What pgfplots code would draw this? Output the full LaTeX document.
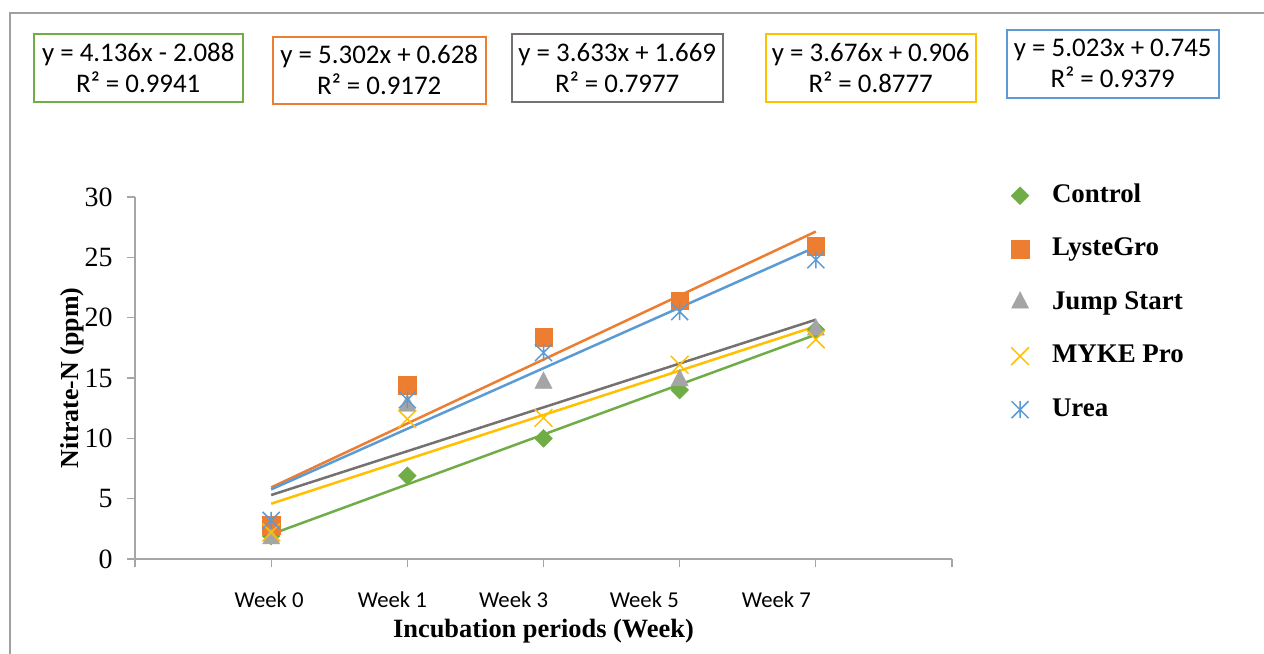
\documentclass[border=0pt]{standalone}
\usepackage{fontspec}
\setmainfont{Liberation Serif}
\newfontfamily\calibri{Carlito}
\usepackage{pgfplots}
\pgfplotsset{compat=1.18}
\definecolor{cGreen}{HTML}{70AD47}
\definecolor{cOrange}{HTML}{ED7D31}
\definecolor{cGray}{HTML}{A5A5A5}
\definecolor{cGrayLine}{HTML}{767171}
\definecolor{cYellow}{HTML}{FFC000}
\definecolor{cBlue}{HTML}{5B9BD5}
\definecolor{axisgray}{HTML}{A6A6A6}
\definecolor{framegray}{HTML}{A0A0A0}
\pgfdeclareplotmark{xstar}{%
  \pgfpathmoveto{\pgfqpoint{0pt}{\pgfplotmarksize}}%
  \pgfpathlineto{\pgfqpoint{0pt}{-\pgfplotmarksize}}%
  \pgfpathmoveto{\pgfqpoint{-\pgfplotmarksize}{-\pgfplotmarksize}}%
  \pgfpathlineto{\pgfqpoint{\pgfplotmarksize}{\pgfplotmarksize}}%
  \pgfpathmoveto{\pgfqpoint{-\pgfplotmarksize}{\pgfplotmarksize}}%
  \pgfpathlineto{\pgfqpoint{\pgfplotmarksize}{-\pgfplotmarksize}}%
  \pgfusepathqstroke}
\begin{document}
\begin{tikzpicture}
\path[use as bounding box, fill=white] (0,0) rectangle (1264bp,-654bp);
\draw[framegray, line width=1.2bp] (10bp,-654bp) -- (10bp,-13bp) -- (1264bp,-13bp);
\tikzset{eqbox/.style={draw, line width=1.5bp, align=center, font=\calibri\fontsize{27}{31}\selectfont, inner sep=0pt, anchor=north west}}
\node[eqbox, draw=cGreen, minimum width=209bp, minimum height=68bp] at (33bp,-33bp) {y = 4.136x - 2.088\\R² = 0.9941};
\node[eqbox, draw=cOrange, minimum width=213bp, minimum height=67bp] at (272bp,-36bp) {y = 5.302x + 0.628\\R² = 0.9172};
\node[eqbox, draw=cGrayLine, minimum width=211bp, minimum height=68bp] at (511bp,-33bp) {y = 3.633x + 1.669\\R² = 0.7977};
\node[eqbox, draw=cYellow, minimum width=210bp, minimum height=68bp] at (765bp,-33bp) {y = 3.676x + 0.906\\R² = 0.8777};
\node[eqbox, draw=cBlue, minimum width=212bp, minimum height=68bp] at (1006bp,-29bp) {y = 5.023x + 0.745\\R² = 0.9379};
\begin{axis}[
  at={(135bp,-559bp)}, anchor=south west,
  scale only axis, width=817bp, height=362bp,
  xmin=0, xmax=6, ymin=0, ymax=30,
  axis x line*=bottom, axis y line*=left,
  axis line style={axisgray, line width=1.2bp, -},
  xtick={0,1,2,3,4,5,6}, xticklabels={,,,,,,},
  ytick={0,5,10,15,20,25,30},
  tick style={axisgray, line width=1.2bp},
  tick align=outside, major tick length=8bp,
  /pgf/number format/assume math mode=true,
  yticklabel style={font=\fontsize{28}{28}\selectfont, xshift=-11bp},
  extra x ticks={0.985,1.89,2.78,3.74,4.71},
  extra x tick labels={Week 0,Week 1,Week 3,Week 5,Week 7},
  extra x tick style={major tick length=0pt, tick label style={font=\calibri\fontsize{22.8}{22.8}\selectfont, anchor=center, yshift=-41bp}},
  ylabel={Nitrate-N (ppm)},
  ylabel style={font=\bfseries\fontsize{26}{26}\selectfont, at={(axis description cs:-0.077,0.5)}, anchor=center},
  xlabel={Incubation periods (Week)},
  xlabel style={font=\bfseries\fontsize{26.5}{26.5}\selectfont, at={(axis description cs:0.5,-0.2)}, anchor=center},
  legend style={at={(axis description cs:1.0722,1.0387)}, anchor=north west, draw=none, fill=none, inner sep=0pt,
    font=\bfseries\fontsize{27}{27}\selectfont, row sep=28.5bp, column sep=23bp,
    nodes={inner sep=0pt, text height=19bp, text depth=6bp}},
  legend cell align=left,
  legend image code/.code={\draw[mark repeat=2,mark phase=2] plot coordinates {(0bp,0bp) (13bp,0bp) (26bp,0bp)};},
  clip=false,
]
\addplot[only marks, mark=square*, mark size=6.3bp, mark options={rotate=45, fill=cGreen, draw=cGreen}] coordinates {(1,1.9) (2,6.9) (3,10.0) (4,14.0) (5,19.0)};
\addlegendentry{Control}
\addplot[only marks, mark=square*, mark size=8.8bp, mark options={fill=cOrange, draw=cOrange}] coordinates {(1,2.8) (2,14.4) (3,18.4) (4,21.4) (5,25.9)};
\addlegendentry{LysteGro}
\addplot[only marks, mark=triangle*, mark size=11bp, mark options={fill=cGray, draw=cGray, xscale=0.9}] coordinates {(1,1.7) (2,12.7) (3,14.6) (4,14.8) (5,19.0)};
\addlegendentry{Jump Start}
\addplot[only marks, mark=x, mark size=12.5bp, mark options={draw=cYellow, line width=1.5bp}] coordinates {(1,2.2) (2,11.6) (3,11.7) (4,16.1) (5,18.2)};
\addlegendentry{MYKE Pro}
\addplot[only marks, mark=xstar, mark size=8.5bp, mark options={draw=cBlue, line width=1.5bp}] coordinates {(1,3.2) (2,13.2) (3,17.1) (4,20.5) (5,24.8)};
\addlegendentry{Urea}
\addplot[cGreen, line width=2.5bp, forget plot] coordinates {(1,2.048) (5,18.592)};
\addplot[cOrange, line width=2.5bp, forget plot] coordinates {(1,5.930) (5,27.138)};
\addplot[cGrayLine, line width=2.5bp, forget plot] coordinates {(1,5.302) (5,19.834)};
\addplot[cYellow, line width=2.5bp, forget plot] coordinates {(1,4.582) (5,19.286)};
\addplot[cBlue, line width=2.5bp, forget plot] coordinates {(1,5.768) (5,25.860)};
\end{axis}
\end{tikzpicture}
\end{document}
